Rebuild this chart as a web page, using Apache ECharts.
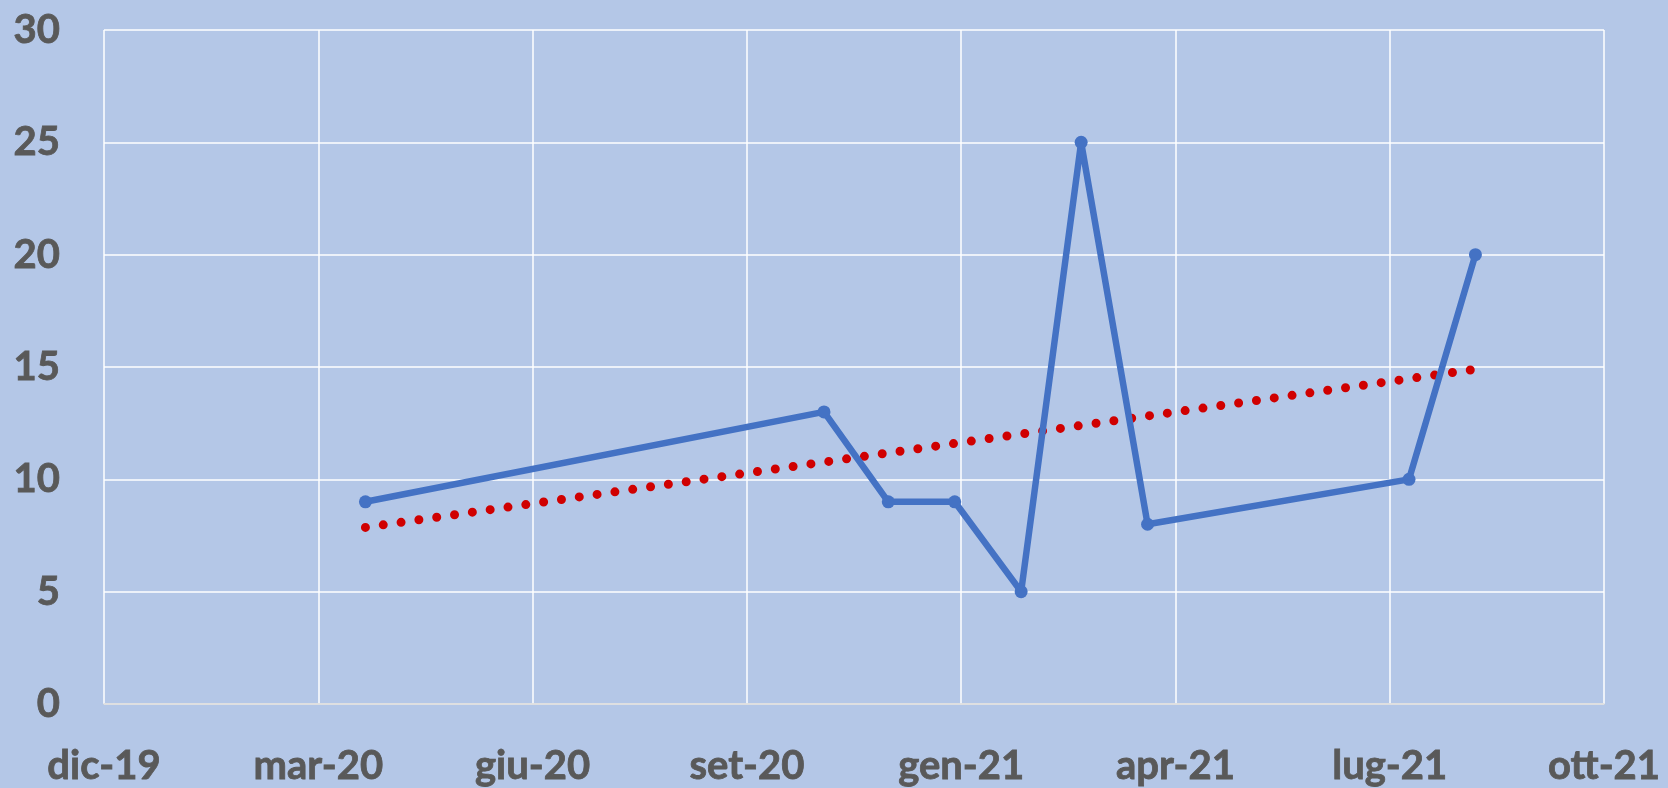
<!DOCTYPE html>
<html>
<head>
<meta charset="utf-8">
<script src="https://cdn.jsdelivr.net/npm/echarts@6/dist/echarts.min.js"></script>
<style>
html,body{margin:0;padding:0;background:#B4C7E7;}
#chart{width:1668px;height:788px;}
</style>
</head>
<body>
<div id="chart"></div>
<script>
var dates = ['2020-04-01','2020-11-01','2020-12-01','2021-01-01','2021-02-01','2021-03-01','2021-04-01','2021-08-01','2021-09-01'];
var values = [9, 13, 9, 9, 5, 25, 8, 10, 20];
// Linear trendline endpoints
var trendDates = ['2020-04-01','2021-09-01'];
var trendValues = [7.86, 14.9];
// Axis tick labels (Excel date serials 43800..44500 step 100)
var xTickLabels = ['dic-19','mar-20','giu-20','set-20','gen-21','apr-21','lug-21','ott-21'];
var yTickLabels = ['0','5','10','15','20','25','30'];

var X_MIN = 43800, X_MAX = 44500, X_STEP = 100;
function serial(d){
  var p = d.split('-');
  return (Date.UTC(+p[0], +p[1]-1, +p[2]) - Date.UTC(1899,11,30)) / 86400000;
}
var lineData = dates.map(function(d,i){ return [serial(d), values[i]]; });
var trendData = trendDates.map(function(d,i){ return [serial(d), trendValues[i]]; });

var labelFont = {fontFamily:'Lato, "Open Sans", sans-serif', fontWeight:'bold', fontSize:40, color:'#595959', textBorderColor:'#595959', textBorderWidth:0.8};

var chart = echarts.init(document.getElementById('chart'), null, {renderer:'canvas'});
chart.setOption({
  backgroundColor:'#B4C7E7',
  animation:false,
  grid:{left:104, right:64, top:30, bottom:84, containLabel:false},
  xAxis:{
    type:'value', min:X_MIN, max:X_MAX, interval:X_STEP,
    axisLine:{show:true, lineStyle:{color:'#D9D9D9', width:1.5}},
    axisTick:{show:false},
    splitLine:{show:true, lineStyle:{color:'#FFFFFF', width:1.5}},
    axisLabel:Object.assign({margin:42, formatter:function(v){ return xTickLabels[Math.round((v-X_MIN)/X_STEP)]; }}, labelFont)
  },
  yAxis:{
    type:'value', min:0, max:30, interval:5,
    axisLine:{show:false}, axisTick:{show:false},
    splitLine:{show:true, lineStyle:{color:'#FFFFFF', width:1.5}},
    axisLabel:Object.assign({margin:44, formatter:function(v){ return yTickLabels[Math.round(v/5)]; }}, labelFont)
  },
  series:[
    {
      type:'line', data:trendData, symbol:'none', z:3,
      lineStyle:{color:'#D00000', width:9, type:[0,18], cap:'round'}
    },
    {
      type:'line', data:lineData, symbol:'circle', symbolSize:13, z:4,
      itemStyle:{color:'#4472C4'},
      lineStyle:{color:'#4472C4', width:6.5, join:'round'}
    }
  ]
});
</script>
</body>
</html>
